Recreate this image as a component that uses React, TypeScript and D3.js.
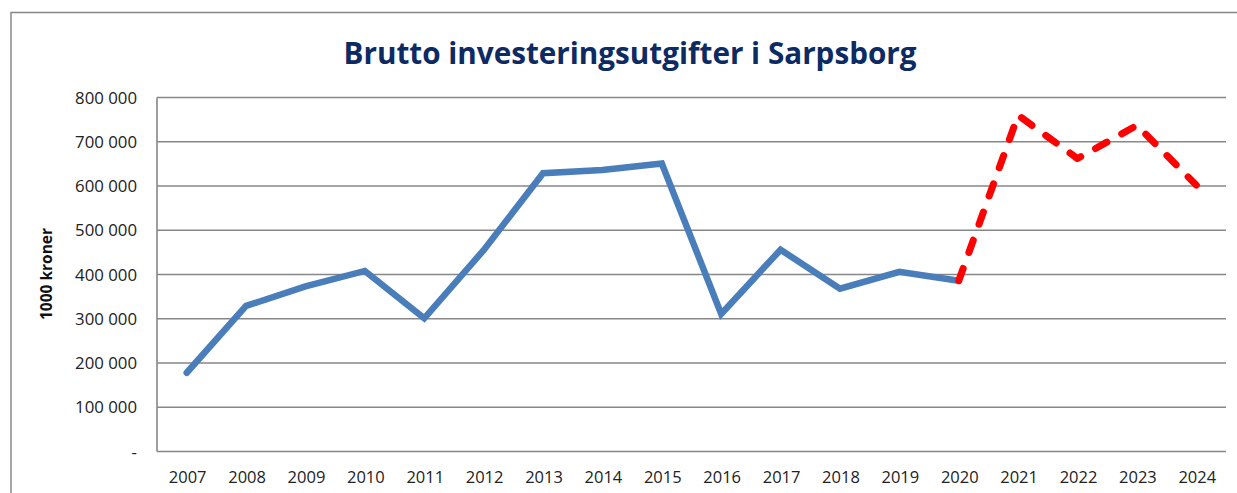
import React from "react";
import * as d3 from "d3";

const years = ["2007","2008","2009","2010","2011","2012","2013","2014","2015","2016","2017","2018","2019","2020","2021","2022","2023","2024"];
const actualYears = ["2007","2008","2009","2010","2011","2012","2013","2014","2015","2016","2017","2018","2019","2020"];
const actualValues = [178000, 329000, 373000, 408000, 301000, 455000, 629000, 636000, 651000, 311000, 456000, 368000, 406000, 386000];
const planYears = ["2020","2021","2022","2023","2024"];
const planValues = [386000, 760000, 662000, 737000, 602000];
const yTicks = [0, 100000, 200000, 300000, 400000, 500000, 600000, 700000, 800000];
const title = "Brutto investeringsutgifter i Sarpsborg";
const yLabel = "1000 kroner";

const W = 1237, H = 493;
const plot = { left: 157, right: 1226, top: 97.5, bottom: 451.5 };

export default function App() {
  const x = d3.scaleBand<string>().domain(years).range([plot.left, plot.right]);
  const y = d3.scaleLinear().domain([0, 800000]).range([plot.bottom, plot.top]);
  const cx = (d: string) => (x(d) as number) + x.bandwidth() / 2;
  const line = d3.line<[string, number]>().x(d => cx(d[0])).y(d => y(d[1]));
  const actual = actualYears.map((d, i) => [d, actualValues[i]] as [string, number]);
  const plan = planYears.map((d, i) => [d, planValues[i]] as [string, number]);
  const fmt = (v: number) => v === 0 ? "-" : d3.format(",")(v).replace(/,/g, " ");
  const font = "'Open Sans', Calibri, sans-serif";
  return (
    <svg width={W} height={H} style={{ position: "absolute", left: 0, top: 0, background: "#fff" }}>
      <rect x={11} y={12.5} width={W + 20} height={H + 20} fill="#fff" stroke="#888" strokeWidth={1.5} />
      <text x={630} y={64} textAnchor="middle" fontFamily={font} fontWeight={700} fontSize={31}
        fill="#0D2A63" textLength={573} lengthAdjust="spacingAndGlyphs">{title}</text>
      {yTicks.map(t => (
        <line key={"g" + t} x1={plot.left} x2={plot.right} y1={y(t)} y2={y(t)} stroke="#878787" strokeWidth={1.6} />
      ))}
      <line x1={plot.left} x2={plot.left} y1={plot.top} y2={plot.bottom} stroke="#878787" strokeWidth={1.6} />
      {yTicks.map(t => (
        <text key={"t" + t} x={137} y={y(t) + 6} textAnchor="end" fontFamily={font} fontSize={16.8} fill="#222">{fmt(t)}</text>
      ))}
      {years.map(yr => (
        <text key={"x" + yr} x={cx(yr) + 1} y={483} textAnchor="middle" fontFamily={font} fontSize={16.5} fill="#222">{yr}</text>
      ))}
      <text transform={`translate(52,274) rotate(-90)`} textAnchor="middle" fontFamily={font} fontWeight={700} fontSize={15.5} fill="#111">{yLabel}</text>
      <path d={line(actual) || ""} fill="none" stroke="#4A7EBB" strokeWidth={6.5} strokeLinejoin="miter" strokeLinecap="round" />
      <path d={line(plan) || ""} fill="none" stroke="#FF0000" strokeWidth={7} strokeDasharray="13 17" strokeLinecap="round" strokeLinejoin="round" />
    </svg>
  );
}
